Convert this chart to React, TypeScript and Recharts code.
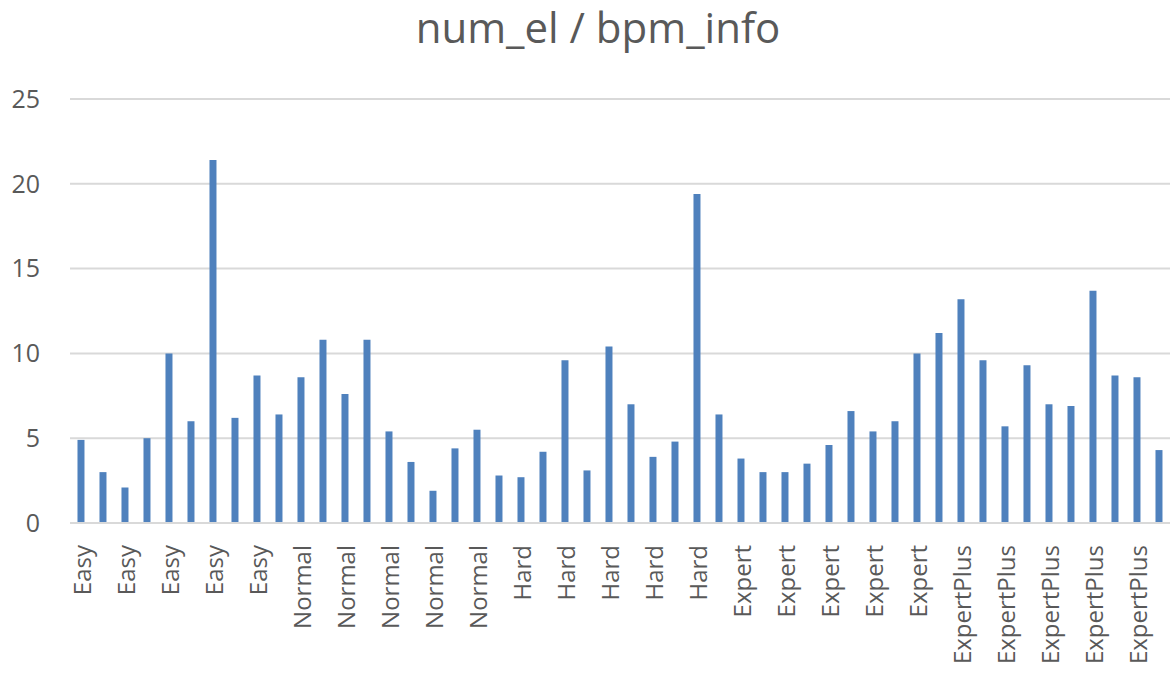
import { FC } from 'react'
import { BarChart, Bar, XAxis, YAxis, CartesianGrid } from 'recharts';

const levels = ['Easy', 'Normal', 'Hard', 'Expert', 'ExpertPlus'];

// ten maps per difficulty
const easyValues = [4.9, 3.0, 2.1, 5.0, 10.0, 6.0, 21.4, 6.2, 8.7, 6.4];
const normalValues = [8.6, 10.8, 7.6, 10.8, 5.4, 3.6, 1.9, 4.4, 5.5, 2.8];
const hardValues = [2.7, 4.2, 9.6, 3.1, 10.4, 7.0, 3.9, 4.8, 19.4, 6.4];
const expertValues = [3.8, 3.0, 3.0, 3.5, 4.6, 6.6, 5.4, 6.0, 10.0, 11.2];
const expertPlusValues = [13.2, 9.6, 5.7, 9.3, 7.0, 6.9, 13.7, 8.7, 8.6, 4.3];

const yTicks = [0, 5, 10, 15, 20, 25];

const data = [easyValues, normalValues, hardValues, expertValues, expertPlusValues]
    .flatMap((vals, i) => vals.map((v, j) => ({ id: `${i}-${j}`, level: levels[i], value: v })));

const FONT = '"Open Sans", sans-serif';
const GREY = '#595959';

const RotatedTick = (props: any) => {
    const { x, y, payload } = props;
    const label = data[payload.index]?.level ?? '';
    return (
        <text
            transform={`translate(${x}, ${y + 20}) rotate(-90)`}
            textAnchor="end"
            dominantBaseline="central"
            fontSize={24}
            fontFamily={FONT}
            fill={GREY}
        >
            {label}
        </text>
    );
};

const App: FC = () => {
    return (
        <div style={{ position: 'absolute', left: 0, top: 0, width: 1170, height: 678, background: '#fff' }}>
            <div
                style={{
                    position: 'absolute',
                    top: -2,
                    width: 1196,
                    textAlign: 'center',
                    fontFamily: FONT,
                    fontSize: 42,
                    color: GREY,
                    whiteSpace: 'nowrap',
                }}
            >
                num_el / bpm_info
            </div>
            <BarChart
                width={1170}
                height={678}
                data={data}
                margin={{ top: 99, right: 0, bottom: 0, left: 0 }}
                barCategoryGap="34%"
            >
                <CartesianGrid vertical={false} stroke="#d9d9d9" strokeWidth={2} />
                <XAxis
                    dataKey="id"
                    interval={1}
                    height={155}
                    tickLine={false}
                    axisLine={{ stroke: '#d9d9d9', strokeWidth: 2 }}
                    tickSize={0}
                    tick={<RotatedTick />}
                />
                <YAxis
                    domain={[0, 25]}
                    ticks={yTicks}
                    width={70}
                    axisLine={false}
                    tickLine={false}
                    tickMargin={24}
                    tick={{ fontSize: 25, fontFamily: FONT, fill: GREY }}
                />
                <Bar dataKey="value" fill="#4f81bd" isAnimationActive={false} />
            </BarChart>
        </div>
    )
}

export default App
